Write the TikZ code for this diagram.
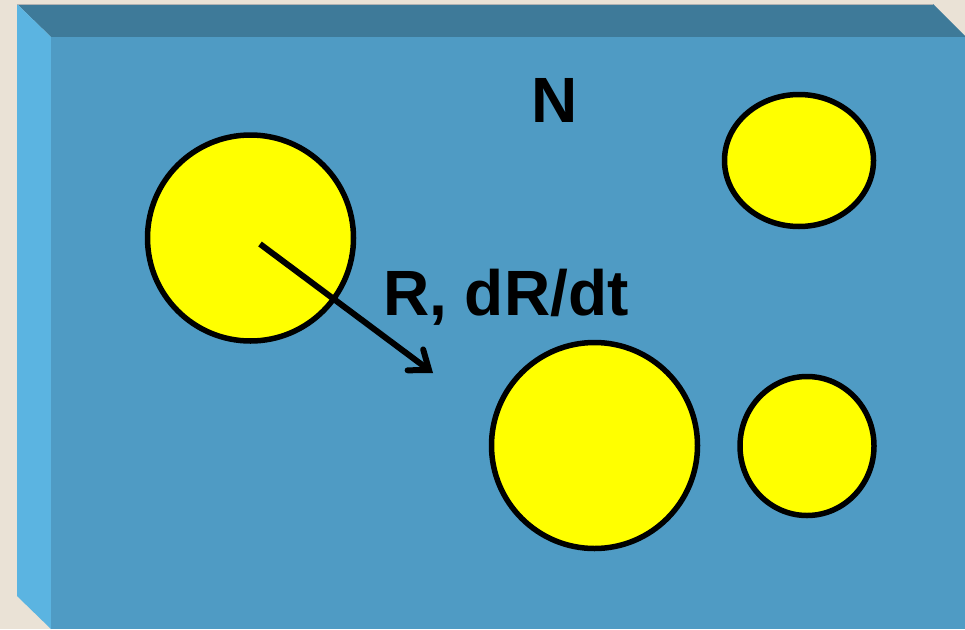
\documentclass[tikz,border=0pt]{standalone}
\usepackage{fontspec}
\setmainfont{Liberation Sans}
\usetikzlibrary{arrows.meta,shapes.geometric}
\definecolor{bgc}{HTML}{EAE2D6}
\definecolor{topc}{HTML}{3E7A99}
\definecolor{leftc}{HTML}{5BB4E1}
\definecolor{frontc}{HTML}{4F9BC4}
\definecolor{blob}{HTML}{FFFF00}
\tikzset{
  drop/.style={draw=black, line width=5.5pt, fill=blob, inner sep=0pt},
  lbl/.style={font=\bfseries\fontsize{64}{64}\selectfont, text=black, inner sep=0pt, anchor=base}
}
\begin{document}
\begin{tikzpicture}[x=1pt,y=-1pt]
\useasboundingbox (0,0) rectangle (965,629);
\fill[bgc] (0,0) rectangle (965,629);
% box faces
\fill[topc] (17,4) -- (933,4) -- (966,37) -- (51,37) -- cycle;
\fill[leftc] (17,4) -- (51,37) -- (51,629) -- (17,596) -- cycle;
\fill[frontc] (51,37) rectangle (965,629);
\draw[line width=1pt, color=gray!60] (17,4.5) -- (933,4.5);
% drops
\node[drop, circle, minimum size=206pt] (c1) at (250.5,238) {};
\node[drop, ellipse, minimum width=149pt, minimum height=132pt] (c2) at (799,160.5) {};
\node[drop, circle, minimum size=206pt] (c3) at (594.5,445.5) {};
\node[drop, ellipse, minimum width=134pt, minimum height=139pt] (c4) at (807,446) {};
% labels
\node[lbl] (N) at (555,122) {N};
\node[lbl, anchor=base west] (R) at (383,315) {R, dR/dt};
% arrow
\coordinate (astart) at (260,244);
\coordinate (tip) at (433,373);
\draw[line width=6pt, -{Straight Barb[length=17pt,width=26pt,line cap=round]}] (astart) -- (tip);
\end{tikzpicture}
\end{document}
